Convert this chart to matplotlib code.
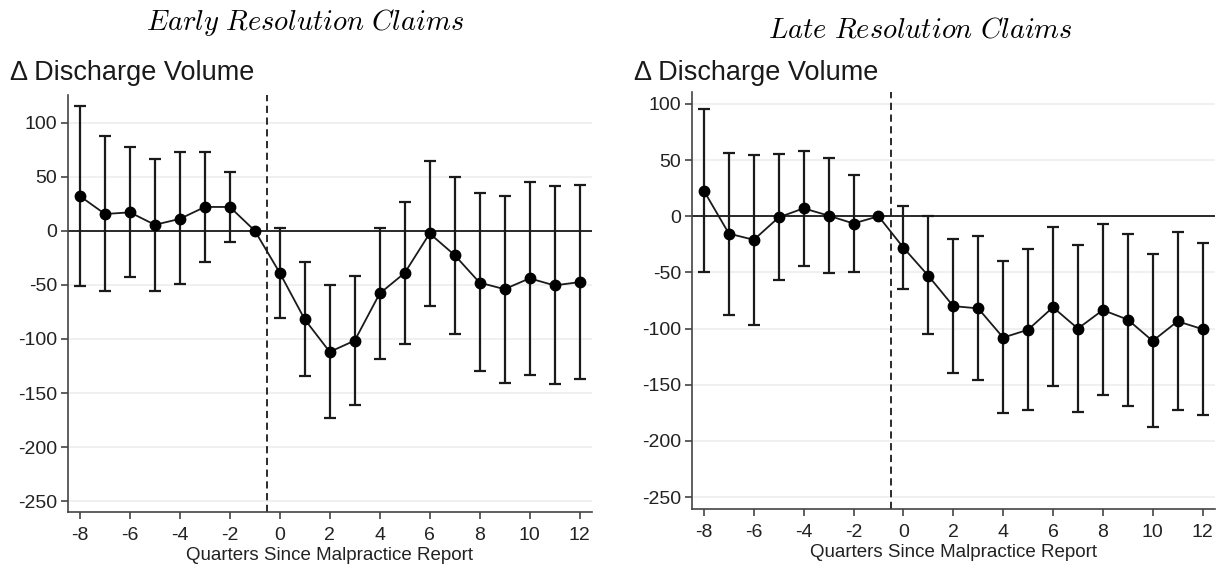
import numpy as np
import matplotlib
matplotlib.use("Agg")
import matplotlib.pyplot as plt

plt.rcParams['font.family'] = ['Liberation Sans', 'DejaVu Sans']
plt.rcParams['mathtext.fontset'] = 'cm'
plt.rcParams['axes.unicode_minus'] = False

# --- data ---
quarters = list(range(-8, 13))
yticks = [-250, -200, -150, -100, -50, 0, 50, 100]
xticks = [-8, -6, -4, -2, 0, 2, 4, 6, 8, 10, 12]

early_est = [32, 15.5, 17, 5.5, 11, 22, 22, 0, -39, -82, -112, -101.5, -58, -39,
             -2.5, -22.5, -48, -54, -44, -50.5, -47.5]
early_hi = [115.5, 87.5, 77.5, 66.5, 72.5, 73, 54.5, 0, 3, -29, -50, -42, 3, 27,
            64.5, 50, 34.5, 32.5, 45.5, 41.5, 42.5]
early_lo = [-51, -55.5, -43, -55.5, -49, -28.5, -10, 0, -81, -134.5, -173, -161,
            -119, -105, -69.5, -95, -129.5, -140.5, -133, -142, -137.5]

late_est = [22.5, -15.5, -21, -1, 7, 0.5, -6.5, 0, -28, -53, -80, -82, -108, -101,
            -81, -100, -83.5, -92, -111, -93.5, -100.5]
late_hi = [95.5, 56.5, 54.5, 55, 58, 52, 36.5, 0, 9.5, 0, -20, -17.5, -40, -29,
           -9.5, -25.5, -6.5, -15.5, -33.5, -14.5, -24]
late_lo = [-50, -87.5, -96.5, -57, -44, -50.5, -50, 0, -65, -104.5, -139.5, -146,
           -175.5, -172.5, -151.5, -174, -159.5, -168.5, -187.5, -172.5, -177]

panels = [
    (r'$\it{Early\ Resolution\ Claims}$', early_est, early_lo, early_hi,
     [68 / 1224, 53 / 565, 524 / 1224, 417 / 565], (-260, 125.5), 305, 22),
    (r'$\it{Late\ Resolution\ Claims}$', late_est, late_lo, late_hi,
     [692 / 1224, 56 / 565, 523 / 1224, 417 / 565], (-260.5, 110.5), 920, 31),
]

fig = plt.figure(figsize=(12.24, 5.65), dpi=100)
fig.patch.set_facecolor('white')

for title, est, lo, hi, rect, ylim, tx, ty in panels:
    ax = fig.add_axes(rect)
    est = np.array(est)
    has_ci = np.array(hi) != np.array(lo)
    q = np.array(quarters)
    ax.errorbar(q[has_ci], est[has_ci],
                yerr=[est[has_ci] - np.array(lo)[has_ci], np.array(hi)[has_ci] - est[has_ci]],
                fmt='none', ecolor='#1a1a1a', elinewidth=1.6, capsize=4, capthick=1.6, zorder=3)
    ax.plot(q, est, color='#1a1a1a', lw=1.3, marker='o', ms=7.5, mfc='black', mec='black', zorder=4)
    ax.axhline(0, color='#1a1a1a', lw=1.3, zorder=2)
    ax.axvline(-0.5, color='#1a1a1a', lw=1.3, ls=(0, (4, 2.5)), zorder=2)

    ax.set_xlim(-8.48, 12.5)
    ax.set_ylim(*ylim)
    ax.set_yticks(yticks)
    ax.set_xticks(xticks)
    ax.yaxis.grid(True, color='#eeeeee', lw=1.2)
    ax.set_axisbelow(True)
    for s in ['top', 'right']:
        ax.spines[s].set_visible(False)
    for s in ['left', 'bottom']:
        ax.spines[s].set_color('#444444')
        ax.spines[s].set_linewidth(1.2)
    ax.tick_params(direction='out', length=5, width=1.2, color='#444444',
                   labelsize=14, labelcolor='#222222', pad=3)
    ax.tick_params(axis='x', pad=6)
    ax.set_xlabel('Quarters Since Malpractice Report', fontsize=13.5, color='#222222', labelpad=2)

    bb = ax.get_position()
    fig.text(tx / 1224, 1 - ty / 565, title, fontsize=20.5, ha='center', va='center')
    fig.text(bb.x0 - 0.047, 1 - 73 / 565, '\u0394 Discharge Volume', fontsize=19.5,
             ha='left', va='center', color='#1a1a1a')

fig.savefig('out.png', dpi=100)
